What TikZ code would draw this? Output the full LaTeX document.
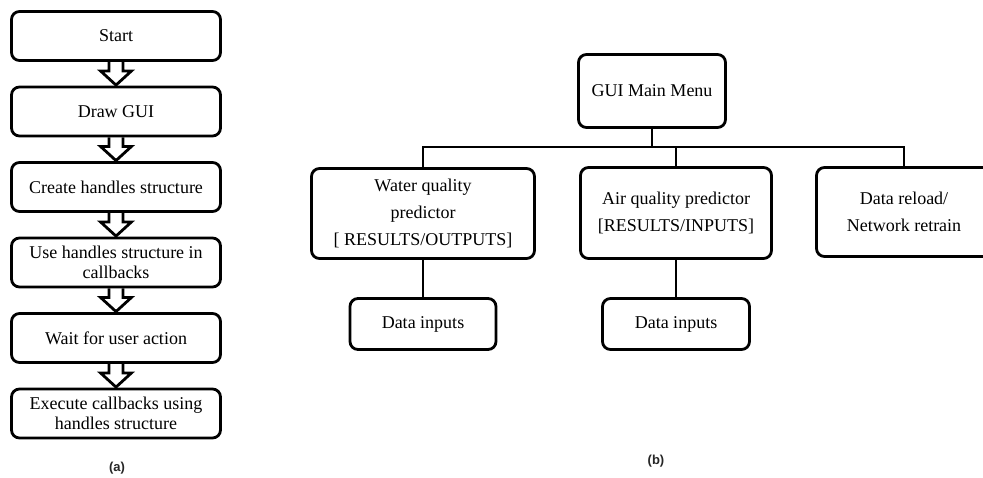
\documentclass[tikz,border=0pt]{standalone}
\usepackage{fontspec}
\setmainfont{Liberation Serif}
\newfontfamily\capfont{Liberation Sans}
\usetikzlibrary{calc,positioning}

\newcommand{\hollowdown}[2]{%
  \draw[hollow] ($(#1.south)+(-7,0)$) -- ++(0,-9) -- ++(-8.5,0)
    -- ($(#2.north)+(0,0.5)$) -- ($(#1.south)+(15.5,-9)$) -- ++(-8.5,0) -- ++(0,9);}

\begin{document}
\begin{tikzpicture}[x=1pt, y=1pt, node distance=23.7pt,
    stepbox/.style = {draw, line width=2.8pt, rounded corners=8pt, minimum width=209pt,
                      minimum height=49pt, align=center, inner sep=2pt,
                      font=\fontsize{18}{20.5}\selectfont},
    treebox/.style = {draw, line width=2.8pt, rounded corners=8pt, align=center, inner sep=2pt,
                      font=\fontsize{18}{27}\selectfont},
    hollow/.style  = {line width=2.8pt, line join=miter},
    link/.style    = {line width=2.8pt},
    caption/.style = {font=\capfont\bfseries\fontsize{13}{15}\selectfont, text=black!85}]
        \useasboundingbox (0,0) rectangle (983,-477);

        % (a) flow of the program
        \node[stepbox]                  (start)   at (116,-36) {Start};
        \node[stepbox, below=of start]  (draw gui) {Draw GUI};
        \node[stepbox, below=of draw gui] (create) {Create handles structure};
        \node[stepbox, below=of create] (use)     {Use handles structure in\\callbacks};
        \node[stepbox, below=of use]    (wait)    {Wait for user action};
        \node[stepbox, below=of wait]   (exec)    {Execute callbacks using\\handles structure};

        \hollowdown{start}{draw gui}
        \hollowdown{draw gui}{create}
        \hollowdown{create}{use}
        \hollowdown{use}{wait}
        \hollowdown{wait}{exec}

        \node[caption] (cap a) at (117,-468) {(a)};

        % (b) menu tree
        \node[treebox, minimum width=147pt, minimum height=73pt] (menu)  at (652,-91)    {GUI Main Menu};
        \node[treebox, minimum width=223pt, minimum height=90pt] (water) at (423,-213.5) {Water quality\\predictor\\{[} RESULTS/OUTPUTS]};
        \node[treebox, minimum width=191pt, minimum height=91pt] (air)   at (676,-213)   {Air quality predictor\\{[}RESULTS/INPUTS]};
        \node[treebox, minimum width=175pt, minimum height=89pt] (reload) at (904,-212)  {Data reload/\\Network retrain};
        \node[treebox, minimum width=146pt, minimum height=51pt] (water in) at (423,-324) {Data inputs};
        \node[treebox, minimum width=147pt, minimum height=51pt] (air in)   at (676,-324)   {Data inputs};
        \coordinate (bus) at (652,-147);

        \draw[link] (menu.south) -- (bus);
        \draw[link] (water.north) |- (bus) -| (reload.north);
        \draw[link] (air.north) -- (air.north|-bus);
        \draw[link] (water) -- (water in);
        \draw[link] (air) -- (air in);

        \node[caption] (cap b) at (656,-461) {(b)};
\end{tikzpicture}
\end{document}
